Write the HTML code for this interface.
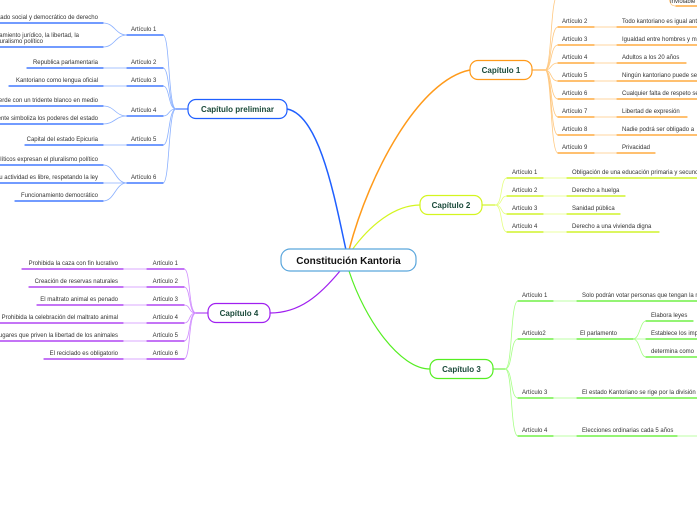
<!DOCTYPE html>
<html><head><meta charset="utf-8"><style>
html,body{margin:0;padding:0;background:#fff;width:697px;height:520px;overflow:hidden}
svg text{font-family:"Liberation Sans",sans-serif;font-size:6px;fill:#333}
.ch{font-size:8px;font-weight:bold;fill:#1a4a3a}
</style></head><body>
<svg width="697" height="520" viewBox="0 0 697 520" xmlns="http://www.w3.org/2000/svg">
<g fill="none" stroke-linecap="round">
<path d="M346 250 C335 200 320 115 287 109" stroke="#1f5fff" stroke-width="1.5"/>
<path d="M349 250 C370 170 420 80 470 70" stroke="#ff9a1a" stroke-width="1.5"/>
<path d="M352 250 C370 225 395 205 420 205" stroke="#d4f520" stroke-width="1.2"/>
<path d="M349 271 C365 320 400 369 430 369" stroke="#55ee22" stroke-width="1.2"/>
<path d="M340 271 C320 295 300 313 270 313" stroke="#a020f0" stroke-width="1.2"/>

<g stroke="#8ab0ff" stroke-width="0.8">
<path d="M176 109 C168 109 170 35 163 35"/><path d="M176 109 C168 109 170 68 163 68"/>
<path d="M176 109 C168 109 170 86 163 86"/><path d="M176 109 C168 109 170 116 163 116"/>
<path d="M176 109 C168 109 170 145 163 145"/><path d="M176 109 C168 109 170 183 163 183"/>
<path d="M127 35 C115 35 115 23 103 23"/><path d="M127 35 C115 35 115 47 103 47"/>
<line x1="103" y1="68" x2="127" y2="68"/><line x1="103" y1="86" x2="127" y2="86"/>
<path d="M127 116 C115 116 115 106 103 106"/><path d="M127 116 C115 116 115 124 103 124"/>
<line x1="103" y1="145" x2="127" y2="145"/>
<path d="M127 183 C115 183 115 165 103 165"/><line x1="103" y1="183" x2="127" y2="183"/><path d="M127 183 C115 183 115 201 103 201"/>
</g>
<line x1="176" y1="109" x2="188" y2="109" stroke="#1f5fff" stroke-width="1"/>
<g stroke="#1f5fff" stroke-width="1.2">
<line x1="127" y1="35" x2="163" y2="35"/><line x1="127" y1="68" x2="163" y2="68"/><line x1="127" y1="86" x2="163" y2="86"/>
<line x1="127" y1="116" x2="163" y2="116"/><line x1="127" y1="145" x2="163" y2="145"/><line x1="127" y1="183" x2="163" y2="183"/>
<line x1="0" y1="23" x2="103" y2="23"/><line x1="0" y1="47" x2="103" y2="47"/><line x1="27" y1="68" x2="103" y2="68"/>
<line x1="9" y1="86" x2="103" y2="86"/><line x1="0" y1="106" x2="103" y2="106"/><line x1="0" y1="124" x2="103" y2="124"/>
<line x1="25" y1="145" x2="103" y2="145"/><line x1="0" y1="165" x2="103" y2="165"/><line x1="0" y1="183" x2="103" y2="183"/><line x1="15" y1="201" x2="103" y2="201"/>
</g>

<g stroke="#ffc880" stroke-width="0.8">
<path d="M545 70 C552 70 550 -5 558 -5"/>
<path d="M545 70 C552 70 550 27 558 27"/><path d="M545 70 C552 70 550 45 558 45"/><path d="M545 70 C552 70 550 63 558 63"/>
<path d="M545 70 C552 70 550 81 558 81"/><path d="M545 70 C552 70 550 99 558 99"/><path d="M545 70 C552 70 550 117 558 117"/>
<path d="M545 70 C552 70 550 135 558 135"/><path d="M545 70 C552 70 550 153 558 153"/>
<line x1="594" y1="27" x2="617" y2="27"/><line x1="594" y1="45" x2="617" y2="45"/><line x1="594" y1="63" x2="617" y2="63"/>
<line x1="594" y1="81" x2="617" y2="81"/><line x1="594" y1="99" x2="617" y2="99"/><line x1="594" y1="117" x2="617" y2="117"/>
<line x1="594" y1="135" x2="617" y2="135"/><line x1="594" y1="153" x2="617" y2="153"/>
<path d="M668 -5 C670 5 672 6 676 6"/>
</g>
<line x1="532" y1="70" x2="545" y2="70" stroke="#ff9a1a" stroke-width="1"/>
<g stroke="#ff9a1a" stroke-width="1.2">
<line x1="558" y1="27" x2="594" y2="27"/><line x1="558" y1="45" x2="594" y2="45"/><line x1="558" y1="63" x2="594" y2="63"/>
<line x1="558" y1="81" x2="594" y2="81"/><line x1="558" y1="99" x2="594" y2="99"/><line x1="558" y1="117" x2="594" y2="117"/>
<line x1="558" y1="135" x2="594" y2="135"/><line x1="558" y1="153" x2="594" y2="153"/>
<line x1="617" y1="27" x2="697" y2="27"/><line x1="617" y1="45" x2="697" y2="45"/><line x1="617" y1="63" x2="686" y2="63"/>
<line x1="617" y1="81" x2="697" y2="81"/><line x1="617" y1="99" x2="697" y2="99"/><line x1="617" y1="117" x2="687" y2="117"/>
<line x1="617" y1="135" x2="697" y2="135"/><line x1="617" y1="153" x2="655" y2="153"/>
<line x1="676" y1="6" x2="697" y2="6"/>
</g>

<g stroke="#e5ff80" stroke-width="0.8">
<path d="M495 205 C503 205 500 178 507 178"/><path d="M495 205 C503 205 500 196 507 196"/>
<path d="M495 205 C503 205 500 214 507 214"/><path d="M495 205 C503 205 500 232 507 232"/>
<line x1="543" y1="178" x2="567" y2="178"/><line x1="543" y1="196" x2="567" y2="196"/>
<line x1="543" y1="214" x2="567" y2="214"/><line x1="543" y1="232" x2="567" y2="232"/>
</g>
<line x1="482" y1="205" x2="495" y2="205" stroke="#c8f000" stroke-width="1"/>
<g stroke="#c8f000" stroke-width="1.2">
<line x1="507" y1="178" x2="543" y2="178"/><line x1="507" y1="196" x2="543" y2="196"/>
<line x1="507" y1="214" x2="543" y2="214"/><line x1="507" y1="232" x2="543" y2="232"/>
<line x1="567" y1="178" x2="697" y2="178"/><line x1="567" y1="196" x2="625" y2="196"/>
<line x1="567" y1="214" x2="620" y2="214"/><line x1="567" y1="232" x2="659" y2="232"/>
</g>

<g stroke="#a8ff88" stroke-width="0.8">
<path d="M505 369 C513 369 510 301 518 301"/><path d="M505 369 C513 369 510 339 518 339"/>
<path d="M505 369 C513 369 510 398 518 398"/><path d="M505 369 C513 369 510 436 518 436"/>
<line x1="553" y1="301" x2="577" y2="301"/><line x1="553" y1="339" x2="577" y2="339"/>
<line x1="553" y1="398" x2="577" y2="398"/><line x1="553" y1="436" x2="577" y2="436"/>
<path d="M633 339 C640 339 640 321 646 321"/><line x1="633" y1="339" x2="646" y2="339"/><path d="M633 339 C640 339 640 357 646 357"/>
<line x1="677" y1="436" x2="697" y2="436"/>
</g>
<line x1="493" y1="369" x2="505" y2="369" stroke="#55ee22" stroke-width="1"/>
<g stroke="#55ee22" stroke-width="1.2">
<line x1="518" y1="301" x2="553" y2="301"/><line x1="518" y1="339" x2="553" y2="339"/>
<line x1="518" y1="398" x2="553" y2="398"/><line x1="518" y1="436" x2="553" y2="436"/>
<line x1="577" y1="301" x2="697" y2="301"/><line x1="577" y1="339" x2="633" y2="339"/>
<line x1="577" y1="398" x2="697" y2="398"/><line x1="577" y1="436" x2="677" y2="436"/>
<line x1="646" y1="321" x2="693" y2="321"/><line x1="646" y1="339" x2="697" y2="339"/><line x1="646" y1="357" x2="697" y2="357"/>
</g>

<g stroke="#d08cff" stroke-width="0.8">
<path d="M196 313 C188 313 191 269 184 269"/><path d="M196 313 C188 313 191 287 184 287"/>
<path d="M196 313 C188 313 191 305 184 305"/><path d="M196 313 C188 313 191 323 184 323"/>
<path d="M196 313 C188 313 191 341 184 341"/><path d="M196 313 C188 313 191 359 184 359"/>
<line x1="123" y1="269" x2="147" y2="269"/><line x1="123" y1="287" x2="147" y2="287"/><line x1="123" y1="305" x2="147" y2="305"/>
<line x1="123" y1="323" x2="147" y2="323"/><line x1="123" y1="341" x2="147" y2="341"/><line x1="123" y1="359" x2="147" y2="359"/>
</g>
<line x1="196" y1="313" x2="208" y2="313" stroke="#a020f0" stroke-width="1"/>
<g stroke="#a020f0" stroke-width="1.2">
<line x1="147" y1="269" x2="184" y2="269"/><line x1="147" y1="287" x2="184" y2="287"/><line x1="147" y1="305" x2="184" y2="305"/>
<line x1="147" y1="323" x2="184" y2="323"/><line x1="147" y1="341" x2="184" y2="341"/><line x1="147" y1="359" x2="184" y2="359"/>
<line x1="22" y1="269" x2="123" y2="269"/><line x1="29" y1="287" x2="123" y2="287"/><line x1="37" y1="305" x2="123" y2="305"/>
<line x1="0" y1="323" x2="123" y2="323"/><line x1="0" y1="341" x2="123" y2="341"/><line x1="44" y1="359" x2="123" y2="359"/>
</g>

<rect x="281" y="249" width="135" height="22" rx="9" fill="#fff" stroke="#5aa6dc" stroke-width="1.2"/>
<rect x="188" y="99.5" width="99" height="19" rx="8" fill="#fff" stroke="#1f5fff" stroke-width="1.2"/>
<rect x="470" y="60.5" width="62" height="19" rx="8" fill="#fff" stroke="#ff9a1a" stroke-width="1.2"/>
<rect x="420" y="195.5" width="62" height="19" rx="8" fill="#fff" stroke="#d4f520" stroke-width="1.2"/>
<rect x="430" y="359.5" width="63" height="19" rx="8" fill="#fff" stroke="#55ee22" stroke-width="1.2"/>
<rect x="208" y="303.5" width="62" height="19" rx="8" fill="#fff" stroke="#a020f0" stroke-width="1.2"/>
</g>

<text x="348.5" y="264" text-anchor="middle" style="font-size:10px;font-weight:bold;fill:#111">Constitución Kantoria</text>
<text class="ch" x="237.5" y="112" text-anchor="middle">Capítulo preliminar</text>
<text class="ch" x="501" y="73" text-anchor="middle">Capítulo 1</text>
<text class="ch" x="451" y="208" text-anchor="middle">Capítulo 2</text>
<text class="ch" x="461.5" y="372" text-anchor="middle">Capítulo 3</text>
<text class="ch" x="239" y="316" text-anchor="middle">Capítulo 4</text>

<g text-anchor="start">
<text x="131" y="31">Artículo 1</text><text x="131" y="64">Artículo 2</text><text x="131" y="82">Artículo 3</text>
<text x="131" y="112">Artículo 4</text><text x="131" y="141">Artículo 5</text><text x="131" y="179">Artículo 6</text>
</g>
<g text-anchor="end">
<text x="98" y="19">Estado social y democrático de derecho</text>
<text x="79" y="37">El ordenamiento jurídico, la libertad, la</text>
<text x="43" y="43">pluralismo político</text>
<text x="98" y="64">Republica parlamentaria</text>
<text x="98" y="82">Kantoriano como lengua oficial</text>
<text x="98" y="102">Bandera verde con un tridente blanco en medio</text>
<text x="98" y="120">El tridente simboliza los poderes del estado</text>
<text x="98" y="141">Capital del estado Epicuria</text>
<text x="98" y="161">Los partidos políticos expresan el pluralismo político</text>
<text x="98" y="179">Su actividad es libre, respetando la ley</text>
<text x="98" y="197">Funcionamiento democrático</text>
</g>

<text x="670" y="3">Inviolable</text>
<text x="562" y="23">Artículo 2</text><text x="622" y="23">Todo kantoriano es igual ante la ley</text>
<text x="562" y="41">Artículo 3</text><text x="622" y="41">Igualdad entre hombres y mujeres</text>
<text x="562" y="59">Artículo 4</text><text x="622" y="59">Adultos a los 20 años</text>
<text x="562" y="77">Artículo 5</text><text x="622" y="77">Ningún kantoriano puede ser</text>
<text x="562" y="95">Artículo 6</text><text x="622" y="95">Cualquier falta de respeto será</text>
<text x="562" y="113">Artículo 7</text><text x="622" y="113">Libertad de expresión</text>
<text x="562" y="131">Artículo 8</text><text x="622" y="131">Nadie podrá ser obligado a</text>
<text x="562" y="149">Artículo 9</text><text x="622" y="149">Privacidad</text>

<text x="512" y="174">Artículo 1</text><text x="572" y="174">Obligación de una educación primaria y secundaria</text>
<text x="512" y="192">Artículo 2</text><text x="572" y="192">Derecho a huelga</text>
<text x="512" y="210">Artículo 3</text><text x="572" y="210">Sanidad pública</text>
<text x="512" y="228">Artículo 4</text><text x="572" y="228">Derecho a una vivienda digna</text>

<text x="522" y="297">Artículo 1</text><text x="582" y="297">Solo podrán votar personas que tengan la mayoría</text>
<text x="522" y="335">Artículo2</text><text x="580" y="335">El parlamento</text>
<text x="651" y="317">Elabora leyes</text><text x="651" y="335">Establece los impuestos</text><text x="651" y="353">determina como</text>
<text x="522" y="394">Artículo 3</text><text x="582" y="394">El estado Kantoriano se rige por la división</text>
<text x="522" y="432">Artículo 4</text><text x="582" y="432">Elecciones ordinarias cada 5 años</text>

<g text-anchor="end">
<text x="178" y="265">Artículo 1</text><text x="178" y="283">Artículo 2</text><text x="178" y="301">Artículo 3</text>
<text x="178" y="319">Artículo 4</text><text x="178" y="337">Artículo 5</text><text x="178" y="355">Artículo 6</text>
<text x="118" y="265">Prohibida la caza con fin lucrativo</text>
<text x="118" y="283">Creación de reservas naturales</text>
<text x="118" y="301">El maltrato animal es penado</text>
<text x="118" y="319">Prohibida la celebración del maltrato animal</text>
<text x="118" y="337">Prohibidos lugares que priven la libertad de los animales</text>
<text x="118" y="355">El reciclado es obligatorio</text>
</g>
</svg>
</body></html>
